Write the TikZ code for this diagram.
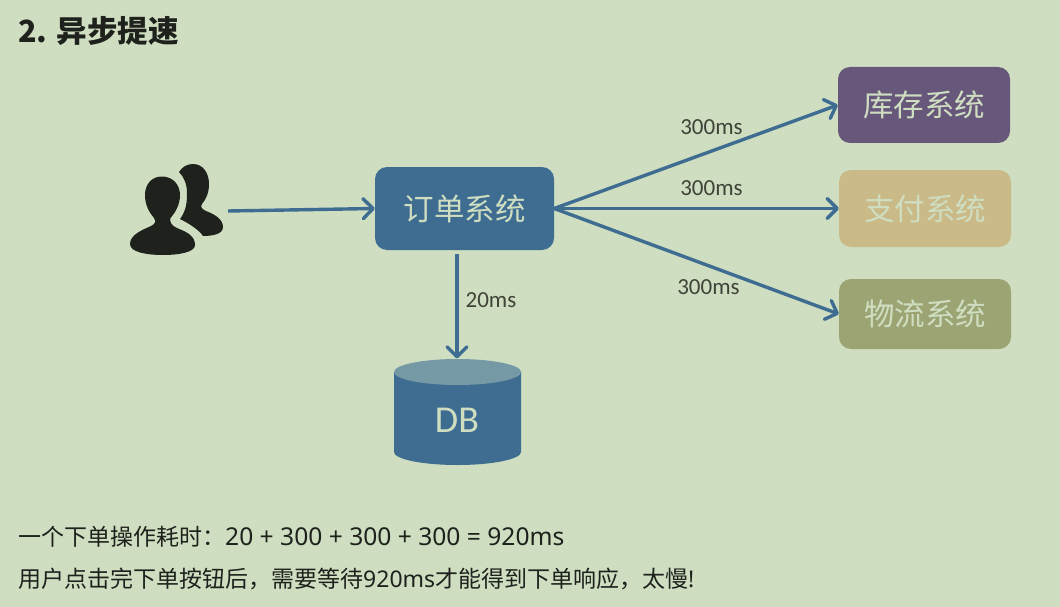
\documentclass[tikz,border=0pt]{standalone}
\usepackage{fontspec}
\setmainfont{Noto Sans CJK SC}
\newfontfamily\latinlabel{Carlito}
\newfontfamily\bodylatin{Noto Sans}
\usetikzlibrary{arrows.meta}
\definecolor{bgc}{HTML}{CFDEC1}
\definecolor{bluec}{HTML}{3E6D91}
\definecolor{purplec}{HTML}{67577B}
\definecolor{tanc}{HTML}{C9BA88}
\definecolor{olivec}{HTML}{9CA473}
\definecolor{cyltop}{HTML}{7599A5}
\definecolor{darkc}{HTML}{1E211C}
\definecolor{labelc}{HTML}{404338}
\tikzset{
  sysbox/.style={draw=none,rounded corners=12pt,inner sep=0pt,text=bgc,font=\fontsize{30.5}{34}\selectfont},
  link/.style={draw=bluec,line width=3.4pt,-{Straight Barb[round,length=10pt,width=20pt,line width=3.4pt]}},
  timelabel/.style={text=labelc,font=\latinlabel\fontsize{23}{26}\selectfont,inner sep=0pt},
  bodytext/.style={text=darkc,anchor=west,inner sep=0pt,font=\fontsize{23}{27}\selectfont}
}
\begin{document}
\begin{tikzpicture}[x=1pt,y=-1pt]
\useasboundingbox (0,0) rectangle (1060,607);
\fill[bgc] (0,0) rectangle (1060,607);
\node[text=darkc,anchor=west,inner sep=0pt,font=\bfseries\fontsize{30.5}{34}\selectfont] (title) at (18,31) {2. 异步提速};

% users icon
\fill[darkc] (162,176.5) .. controls (173,176.5) and (180,185) .. (180,195)
  .. controls (180,205) and (175,213) .. (170.5,218)
  .. controls (169,222) and (172,226) .. (178,228.5)
  .. controls (187,232) and (195,236) .. (195,245)
  .. controls (195,252) and (180,255) .. (163,255)
  .. controls (146,255) and (130,252) .. (130,244)
  .. controls (130,235) and (142,230) .. (150,226.5)
  .. controls (156,224) and (156,221) .. (154,218)
  .. controls (149,212) and (145,205) .. (145,195)
  .. controls (145,185) and (151,176.5) .. (162,176.5) -- cycle;
\fill[darkc] (179,172) .. controls (182,167) and (187,164) .. (193,164)
  .. controls (203,164) and (209,173) .. (209,184)
  .. controls (209,193) and (206,199) .. (202,204)
  .. controls (200,207) and (202,209) .. (206,211)
  .. controls (214,214) and (223,219) .. (223,227)
  .. controls (223,234) and (213,236) .. (203,236)
  .. controls (199,230) and (190,224) .. (180,219)
  .. controls (186,211) and (187,203) .. (187,193)
  .. controls (187,184) and (184,177) .. (179,172) -- cycle;
\coordinate (users) at (228,211);

% boxes
\node[sysbox,fill=bluec,minimum width=179pt,minimum height=83pt] (order) at (464.5,208.5) {订单系统};
\node[sysbox,fill=purplec,minimum width=172pt,minimum height=76pt] (stock) at (924,105) {库存系统};
\node[sysbox,fill=tanc,minimum width=172pt,minimum height=77pt] (pay) at (925,208.5) {支付系统};
\node[sysbox,fill=olivec,minimum width=172pt,minimum height=70pt] (ship) at (925,314) {物流系统};

% DB cylinder
\fill[bluec] (394,372) -- (394,452) arc[start angle=180,end angle=360,x radius=63.5pt,y radius=13pt] -- (521,372) -- cycle;
\fill[cyltop] (457.5,372) ellipse[x radius=63.5pt,y radius=13pt];
\node[text=bgc,inner sep=0pt,font=\latinlabel\fontsize{38}{42}\selectfont] (db) at (457,420) {DB};
\coordinate (dbtop) at (457,358.5);
\coordinate (ordersouth) at (457,254);

% connectors
\draw[link] (users) -- (order.west);
\draw[link] (ordersouth) -- (dbtop);
\draw[link] (order.east) -- (stock.west);
\draw[link] (order.east) -- (pay.west);
\draw[link] (order.east) -- (ship.west);

% labels
\node[timelabel] (l1) at (711.5,127) {300ms};
\node[timelabel] (l2) at (711.5,188) {300ms};
\node[timelabel] (l3) at (708.5,287) {300ms};
\node[timelabel] (l4) at (491,300) {20ms};

% bottom text
\node[bodytext] (t1) at (18,537) {一个下单操作耗时：{\bodylatin\fontsize{24.6}{27}\selectfont 20 + 300 + 300 + 300 = 920ms}};
\node[bodytext] (t2) at (18,579) {用户点击完下单按钮后，需要等待{\bodylatin 920ms}才能得到下单响应，太慢{\bodylatin !}};
\end{tikzpicture}
\end{document}
